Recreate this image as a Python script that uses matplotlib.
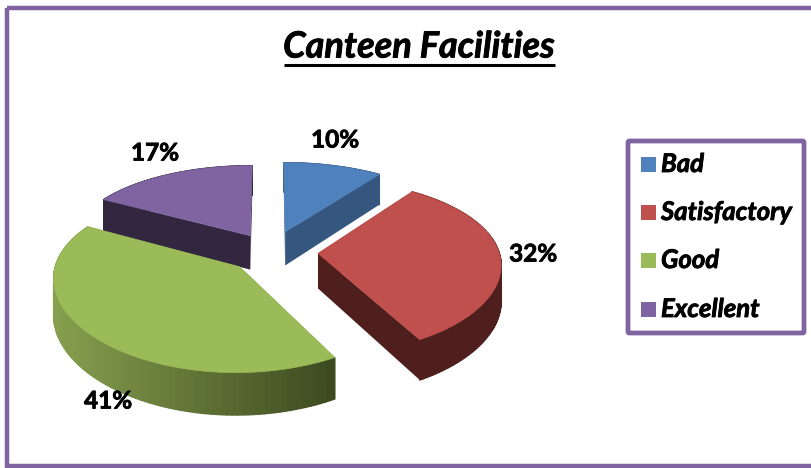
import numpy as np
import matplotlib
matplotlib.use("Agg")
import matplotlib.pyplot as plt
import matplotlib.patheffects as pe
from matplotlib.collections import PolyCollection
from matplotlib.patches import Rectangle, FancyBboxPatch

categories = ["Bad", "Satisfactory", "Good", "Excellent"]
values = [10, 32, 41, 17]
pct_labels = ["10%", "32%", "41%", "17%"]
top_colors = ["#4f81bd", "#c0504d", "#9bbb59", "#8064a2"]
side_colors = ["#34567f", "#4f1f1e", "#86a04e", "#33273f"]
side_dark = ["#34567f", "#4f1f1e", "#3d4a20", "#33273f"]
explode = [0.26, 0.26, 0.24, 0.23]
label_xy = [(335, 140), (533, 254), (108, 401), (155, 153)]
draw_order = [3, 0, 2, 1]

plt.rcParams["font.family"] = ["Lato", "DejaVu Sans"]
fig = plt.figure(figsize=(8.12, 4.68), dpi=100)
ax = fig.add_axes([0, 0, 1, 1])
ax.set_xlim(0, 812)
ax.set_ylim(468, 0)
ax.axis("off")

CX, CY, RX, RY, KX, KY, DEPTH = 271, 252, 181, 85, 0.11, 0.15, 35
heavy = [pe.withStroke(linewidth=0.6, foreground="black")]


def project(X, Y, Z=0.0):
    sx = 1 / (1 + KX * Y)
    sy = 1 / (1 + KY * Y)
    return CX + RX * X * sx, CY - RY * Y * sy + DEPTH * Z * sy


def hex2rgb(h):
    return np.array(matplotlib.colors.to_rgb(h))


edges = np.concatenate([[0], np.cumsum(values)]) / np.sum(values) * 2 * np.pi

for i in draw_order:
    a0, a1 = edges[i], edges[i + 1]
    mid = (a0 + a1) / 2
    ox, oy = explode[i] * np.sin(mid), explode[i] * np.cos(mid)
    th = np.linspace(a0, a1, 100)
    Xs = ox + np.sin(th)
    Ys = oy + np.cos(th)
    tx, ty = project(Xs, Ys, 0)
    bx, by = project(Xs, Ys, 1)
    ax0, ay0 = project(ox, oy, 0)
    ax1, ay1 = project(ox, oy, 1)
    layer = draw_order.index(i) * 3
    for j in (0, -1):
        ax.add_patch(plt.Polygon([(ax0, ay0), (tx[j], ty[j]), (bx[j], by[j]), (ax1, ay1)],
                                 closed=True, fc=side_dark[i], ec="none", zorder=2 + layer))
    quads = [[(tx[k], ty[k]), (tx[k + 1], ty[k + 1]), (bx[k + 1], by[k + 1]), (bx[k], by[k])]
             for k in range(len(th) - 1)]
    f = (tx[:-1] - tx.min()) / max(tx.max() - tx.min(), 1)
    cols = [hex2rgb(side_colors[i]) * (1 - v) + hex2rgb(side_dark[i]) * v for v in f]
    ax.add_collection(PolyCollection(quads, facecolors=cols, edgecolors=cols, linewidths=1.0,
                                     zorder=3 + layer))
    ax.add_patch(plt.Polygon(np.column_stack([np.r_[ax0, tx], np.r_[ay0, ty]]), closed=True,
                             fc=top_colors[i], ec=top_colors[i], lw=0.5, zorder=4 + layer))

for lab, (x, y) in zip(pct_labels, label_xy):
    ax.text(x, y, lab, ha="center", va="center", fontsize=17.5, fontweight="bold", color="black",
            zorder=30, path_effects=heavy)

# outer frame: open on the right, running off the picture
ax.add_patch(Rectangle((7.5, 7.5), 830, 458, fc="none", ec="#8064a2", lw=3.2, zorder=1))

# title
ax.text(419, 47, "Canteen Facilities", ha="center", va="center", fontsize=26, fontweight="bold",
        style="italic", color="black", zorder=30, path_effects=heavy)
ax.plot([284, 555], [65, 65], color="black", lw=2.2, solid_capstyle="butt", zorder=30)

# legend
ax.add_patch(FancyBboxPatch((628, 141), 176, 192, boxstyle="round,pad=0,rounding_size=1.5",
                            fc="white", ec="#8064a2", lw=3.4, zorder=20))
legend_y = [164, 212, 260, 309]
for cat, col, y in zip(categories, top_colors, legend_y):
    ax.add_patch(Rectangle((641, y - 7.5), 15, 15, fc=col, ec="none", zorder=21))
    ax.text(661, y, cat, ha="left", va="center", fontsize=18.5, fontweight="bold", style="italic",
            color="black", zorder=21, path_effects=heavy)

fig.savefig("out.png", dpi=100)
